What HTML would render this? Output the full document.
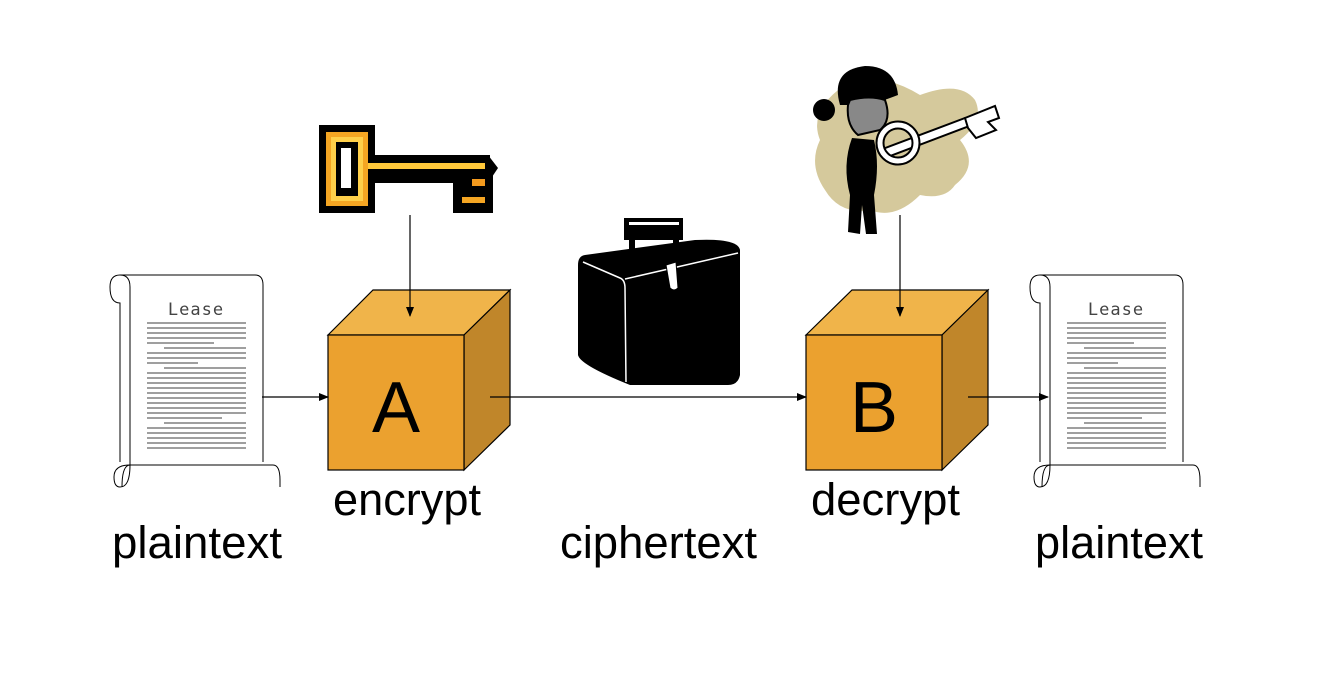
<!DOCTYPE html>
<html><head><meta charset="utf-8"><style>
html,body{margin:0;padding:0;background:#fff;}
svg{display:block;}
text{font-family:"Liberation Sans",Arial,sans-serif;}
</style></head><body>
<svg width="1334" height="681" viewBox="0 0 1334 681" xmlns="http://www.w3.org/2000/svg">
<defs>
<marker id="ah" markerWidth="10" markerHeight="8" refX="9" refY="4" orient="auto" markerUnits="userSpaceOnUse">
<path d="M0,0 L10,4 L0,8 Z" fill="#000"/></marker>
<g id="scroll">
  <path d="M20,0 H155 Q163,0 163,10 V187" fill="#fff" stroke="#000" stroke-width="1"/>
  <path d="M20,0 Q10,0 10,12 Q10,28 20,28 L20,28 V187" fill="#fff" stroke="#000" stroke-width="1"/>
  <path d="M20,0 Q30,0 30,12 V190" fill="none" stroke="#000" stroke-width="1"/>
  <path d="M30,190 Q30,212 20,212 Q14,212 14,202 Q14,190 30,190 H173 Q180,190 180,205 V212" fill="#fff" stroke="#000" stroke-width="1"/>
  <path d="M30,190 Q22,190 22,212" fill="none" stroke="#000" stroke-width="1"/>
  <text x="96" y="40" font-size="17" text-anchor="middle" fill="#444" style="font-family:'DejaVu Sans Mono',monospace" letter-spacing="1">Lease</text>
  <g stroke="#666" stroke-width="1.2">
    <path d="M47,48H146M47,53H146M47,58H146M47,63H146M47,68H114M64,73H146M47,78H146M47,83H146M47,88H98M64,93H146M47,98H146M47,103H146M47,108H146M47,113H146M47,118H146M47,123H146M47,128H146M47,133H146M47,138H146M47,143H122M64,148H146M47,153H146M47,158H146M47,163H146M47,168H146M47,173H146"/>
  </g>
</g>
</defs>

<use href="#scroll" x="100" y="275"/>
<use href="#scroll" x="1020" y="275"/>

<!-- key 1 -->
<g>
  <rect x="319" y="125" width="56" height="88" fill="#000"/>
  <rect x="375" y="155" width="115" height="28" fill="#000"/>
  <path d="M488,155 L498,168 L488,183 Z" fill="#000"/>
  <rect x="453" y="175" width="40" height="38" fill="#000"/>
  <rect x="326" y="132" width="42" height="74" fill="#F5A623"/>
  <rect x="331" y="137" width="32" height="64" fill="#FFD04A"/>
  <rect x="336" y="142" width="22" height="54" fill="#000"/>
  <rect x="341" y="148" width="10" height="40" fill="#fff"/>
  <rect x="368" y="163" width="117" height="6" fill="#FFC83A"/>
  <rect x="472" y="179" width="13" height="7" fill="#F39A1E"/>
  <rect x="462" y="197" width="23" height="6" fill="#F5A623"/>
</g>

<!-- woman with key -->
<g>
  <path d="M845,85 Q880,70 920,95 Q960,80 975,100 Q985,120 960,140 Q980,165 955,185 Q945,200 920,195 Q895,220 870,210 Q840,215 825,190 Q808,165 820,140 Q808,110 845,85 Z" fill="#D5C99C"/>
  <path d="M840,105 Q830,70 865,66 Q895,66 898,95 Q885,100 870,105 Z" fill="#000"/>
  <circle cx="824" cy="110" r="11" fill="#000"/>
  <path d="M848,105 Q846,125 858,135 L880,130 Q892,120 885,100 Q870,95 850,100 Z" fill="#888" stroke="#000" stroke-width="2"/>
  <path d="M852,138 Q842,165 850,195 L848,232 L860,234 L862,205 L866,234 L877,234 L874,195 Q880,165 874,140 Z" fill="#000"/>
  <path d="M880,150 L965,118 L972,125 L885,158 Z" fill="#fff" stroke="#000" stroke-width="2"/>
  <circle cx="898" cy="143" r="18" fill="none" stroke="#000" stroke-width="9"/>
  <circle cx="898" cy="143" r="18" fill="none" stroke="#fff" stroke-width="5"/>
  <path d="M965,118 L995,106 L999,118 L988,122 L996,130 L976,138 L968,128 Z" fill="#fff" stroke="#000" stroke-width="2"/>
</g>

<!-- briefcase -->
<g>
  <rect x="624" y="218" width="59" height="22" fill="#000"/>
  <rect x="629" y="222" width="50" height="3" fill="#fff"/>
  <rect x="629" y="240" width="6" height="22" fill="#000"/>
  <rect x="673" y="238" width="6" height="22" fill="#000"/>
  <path d="M585,255 L695,240 Q738,238 740,250 L740,375 Q738,385 728,385 L630,385 Q580,365 578,355 L578,265 Q578,256 585,255 Z" fill="#000"/>
  <path d="M583,262 L620,278 Q625,280 625,288 L626,382" fill="none" stroke="#fff" stroke-width="1.5"/>
  <path d="M625,279 L738,253" fill="none" stroke="#fff" stroke-width="1.5"/>
  <path d="M666,265 L676,262 L678,288 Q674,292 670,288 Z" fill="#fff" stroke="#000" stroke-width="1"/>
</g>

<!-- cube A -->
<g stroke="#000" stroke-width="1.2">
  <path d="M328,335 L373,290 L510,290 L464,335 Z" fill="#F0B44A"/>
  <path d="M464,335 L510,290 L510,425 L464,470 Z" fill="#C0862A"/>
  <rect x="328" y="335" width="136" height="135" fill="#EBA12F"/>
</g>
<text x="396" y="432" font-size="72" text-anchor="middle" fill="#000">A</text>
<!-- cube B -->
<g stroke="#000" stroke-width="1.2">
  <path d="M806,335 L852,290 L988,290 L942,335 Z" fill="#F0B44A"/>
  <path d="M942,335 L988,290 L988,425 L942,470 Z" fill="#C0862A"/>
  <rect x="806" y="335" width="136" height="135" fill="#EBA12F"/>
</g>
<text x="874" y="432" font-size="72" text-anchor="middle" fill="#000">B</text>

<!-- arrows -->
<line x1="900" y1="215" x2="900" y2="316" stroke="#000" stroke-width="1.2" marker-end="url(#ah)"/>
<line x1="410" y1="215" x2="410" y2="316" stroke="#000" stroke-width="1.2" marker-end="url(#ah)"/>
<line x1="262" y1="397" x2="328" y2="397" stroke="#000" stroke-width="1.2" marker-end="url(#ah)"/>
<line x1="490" y1="397" x2="806" y2="397" stroke="#000" stroke-width="1.2" marker-end="url(#ah)"/>
<line x1="968" y1="397" x2="1048" y2="397" stroke="#000" stroke-width="1.2" marker-end="url(#ah)"/>

<!-- labels -->
<text x="112" y="558" font-size="45" textLength="170" lengthAdjust="spacingAndGlyphs">plaintext</text>
<text x="333" y="515" font-size="45" textLength="148" lengthAdjust="spacingAndGlyphs">encrypt</text>
<text x="560" y="558" font-size="45" textLength="197" lengthAdjust="spacingAndGlyphs">ciphertext</text>
<text x="811" y="515" font-size="45" textLength="149" lengthAdjust="spacingAndGlyphs">decrypt</text>
<text x="1035" y="558" font-size="45" textLength="168" lengthAdjust="spacingAndGlyphs">plaintext</text>
</svg>
</body></html>
